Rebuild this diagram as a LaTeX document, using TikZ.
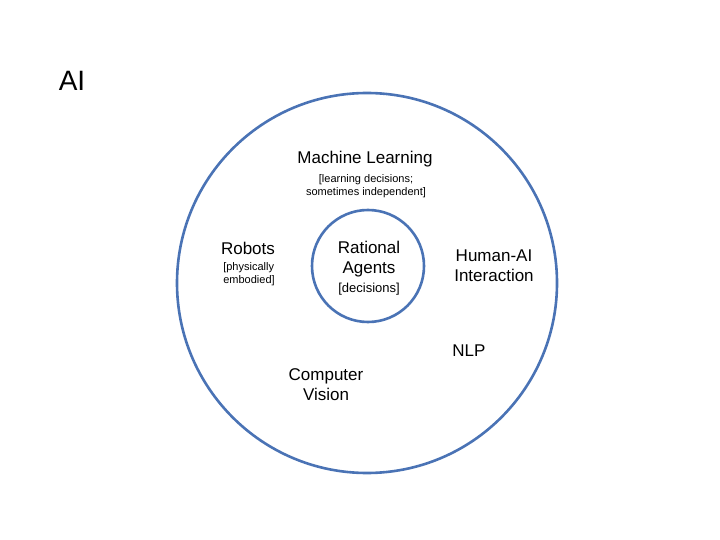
\documentclass[tikz,border=0pt]{standalone}
\usepackage{fontspec}
\setmainfont{Liberation Sans}
\begin{document}
\begin{tikzpicture}[x=1pt,y=-1pt,
  ring/.style={draw={rgb,255:red,74;green,115;blue,181},line width=2.6pt},
  big/.style={font=\fontsize{17}{20}\selectfont,align=center,inner sep=0},
  small/.style={font=\fontsize{11}{13}\selectfont,align=center,inner sep=0}]
\useasboundingbox (0,0) rectangle (720,540);
\node[ring,circle,minimum size=380pt,inner sep=0] (outer) at (367,283) {};
\node[ring,circle,minimum size=112pt,inner sep=0] (inner) at (368,266) {};
\node[font=\fontsize{28}{30}\selectfont,inner sep=0] (ai) at (72,81) {AI};
\node[big] (ml) at (365,159) {Machine Learning};
\node[small] (mls) at (366,186) {[learning decisions;\\sometimes independent]};
\node[big] (rob) at (248,248) {Robots};
\node[small,align=left] (robs) at (249,274) {[physically\\embodied]};
\node[big] (ra) at (369,259) {Rational\\Agents};
\node[small,font=\fontsize{13}{15}\selectfont] (ras) at (369,289) {[decisions]};
\node[big] (hai) at (494,266) {Human-AI\\Interaction};
\node[big] (nlp) at (469,351) {NLP};
\node[big] (cv) at (326,385) {Computer\\Vision};
\end{tikzpicture}
\end{document}
